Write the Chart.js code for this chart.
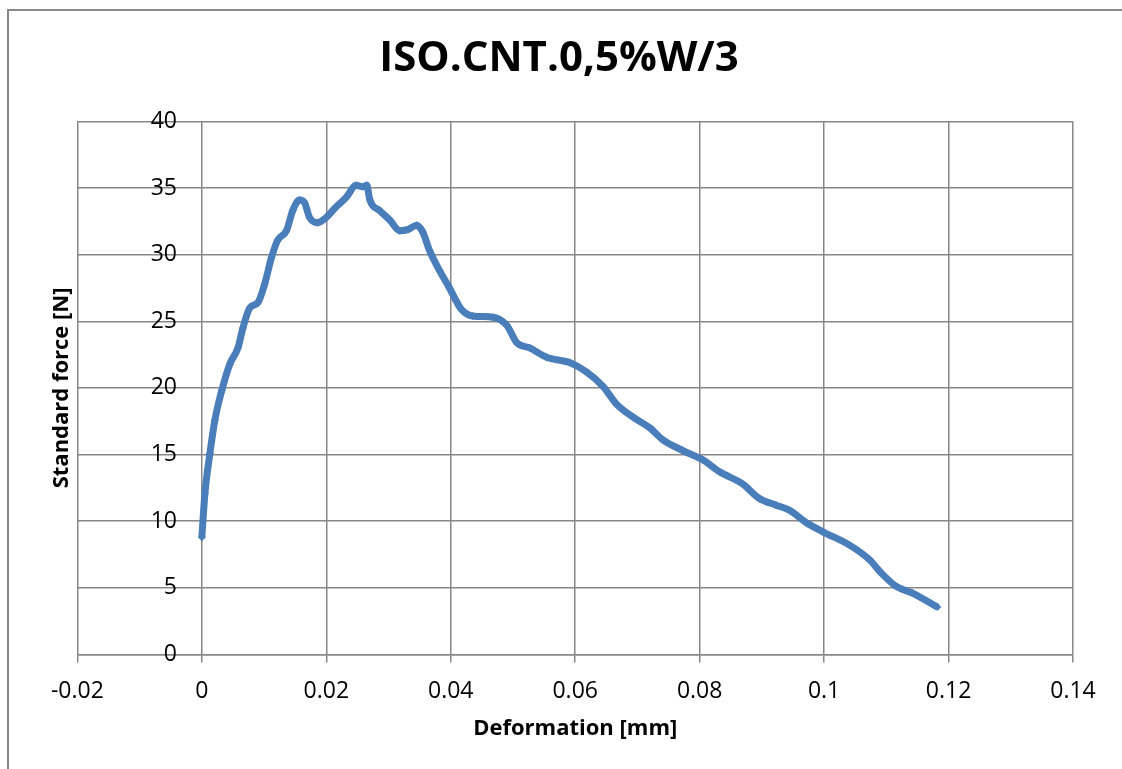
<!DOCTYPE html>
<html>
<head>
<meta charset="utf-8">
<script src="https://cdn.jsdelivr.net/npm/chart.js@4/dist/chart.umd.min.js"></script>
<style>
  body { margin: 0; background: #fff; }
  #wrap { position: relative; width: 1122px; height: 769px; overflow: hidden; }
  #frame { position: absolute; left: 7px; top: 9px; width: 1300px; height: 900px;
           border-top: 2px solid #8a8a8a; border-left: 2px solid #8a8a8a; }
  #chart { position: absolute; left: 0; top: 0; }
</style>
</head>
<body>
<div id="wrap">
  <div id="frame"></div>
  <canvas id="chart" width="1122" height="769"></canvas>
</div>
<script>
// Deformation [mm] and standard force [N]
const deformation = [
  0, 0.0005, 0.0013, 0.0021, 0.0032, 0.0045, 0.0058, 0.0066, 0.0077, 0.009,
  0.0101, 0.0112, 0.0122, 0.0136, 0.0146, 0.0157, 0.0165, 0.0173, 0.0186, 0.02,
  0.0214, 0.0232, 0.0248, 0.0259, 0.0265, 0.027, 0.0286, 0.0302, 0.0318, 0.0332,
  0.0345, 0.0355, 0.0366, 0.0382, 0.0398, 0.0409, 0.0417, 0.0435, 0.0468, 0.049,
  0.0506, 0.0527, 0.0554, 0.0591, 0.0618, 0.0645, 0.0666, 0.0693, 0.072, 0.0741,
  0.0773, 0.0805, 0.0832, 0.0869, 0.0896, 0.0923, 0.0945, 0.0971, 0.0998, 0.1041,
  0.1073, 0.1092, 0.1116, 0.1142, 0.1182
];
const force = [
  8.8, 12.1, 15.1, 17.6, 19.8, 21.8, 23.0, 24.5, 26.0, 26.4,
  27.8, 29.8, 31.1, 31.8, 33.3, 34.1, 33.9, 32.8, 32.4, 32.8,
  33.5, 34.3, 35.2, 35.1, 35.2, 34.1, 33.3, 32.6, 31.8, 31.9,
  32.2, 31.7, 30.3, 28.8, 27.5, 26.5, 25.9, 25.4, 25.3, 24.7,
  23.4, 23.0, 22.3, 21.9, 21.2, 20.1, 18.8, 17.8, 17.0, 16.1,
  15.3, 14.6, 13.7, 12.8, 11.7, 11.2, 10.8, 9.9, 9.2, 8.2,
  7.1, 6.1, 5.1, 4.6, 3.55
];
const xTicks = [-0.02, 0, 0.02, 0.04, 0.06, 0.08, 0.1, 0.12, 0.14];
const yTicks = [0, 5, 10, 15, 20, 25, 30, 35, 40];

const chartTitle = 'ISO.CNT.0,5%W/3';
const xTitle = 'Deformation [mm]';
const yTitle = 'Standard force [N]';

const gridColor = '#878787';
const lineColor = '#4a7ebb';
const fontFamily = "'Open Sans', sans-serif";

const points = deformation.map((d, i) => ({ x: d, y: force[i] }));

const ctx = document.getElementById('chart').getContext('2d');
new Chart(ctx, {
  type: 'line',
  data: {
    datasets: [{
      label: 'ISO.CNT.0,5%W/3',
      data: points,
      borderColor: lineColor,
      backgroundColor: lineColor,
      borderWidth: 7,
      cubicInterpolationMode: 'monotone',
      pointStyle: 'rectRot',
      pointRadius: 4,
      pointBorderWidth: 0,
      pointBackgroundColor: lineColor,
      xAxisID: 'x',
      yAxisID: 'y'
    }]
  },
  options: {
    responsive: false,
    animation: false,
    layout: { padding: { top: 10, left: 45, right: 49, bottom: 15 } },
    plugins: {
      legend: { display: false },
      tooltip: { enabled: false },
      title: {
        display: true,
        text: chartTitle,
        color: '#000',
        font: { family: fontFamily, size: 42, weight: 'bold' },
        padding: { top: 24, bottom: 37 }
      }
    },
    scales: {
      x: {
        type: 'linear',
        position: 'bottom',
        min: -0.02,
        max: 0.14,
        afterBuildTicks: scale => { scale.ticks = xTicks.map(v => ({ value: v })); },
        ticks: {
          color: '#000',
          font: { family: fontFamily, size: 23 },
          padding: 15,
          maxRotation: 0,
          callback: v => String(v)
        },
        grid: { color: gridColor, lineWidth: 1.5, tickLength: 8 },
        border: { color: gridColor, width: 1.5 },
        title: {
          display: true,
          text: xTitle,
          color: '#000',
          font: { family: fontFamily, size: 22, weight: 'bold', lineHeight: 1 },
          padding: { top: -2, bottom: 14 }
        }
      },
      y: {
        type: 'linear',
        position: { x: -0.004 },
        min: 0,
        max: 40,
        afterBuildTicks: scale => { scale.ticks = yTicks.map(v => ({ value: v })); },
        ticks: {
          color: '#000',
          font: { family: fontFamily, size: 23 },
          callback: v => String(v)
        },
        grid: { color: gridColor, lineWidth: 1.5, drawTicks: false },
        border: { display: false }
      },
      yTitleAxis: {
        type: 'linear',
        position: 'left',
        display: true,
        grid: { display: false, drawTicks: false },
        border: { display: false },
        ticks: { display: false },
        title: {
          display: true,
          text: yTitle,
          color: '#000',
          font: { family: fontFamily, size: 22, weight: 'bold' },
          padding: { top: 4, bottom: 2 }
        }
      }
    }
  }
});
</script>
</body>
</html>
